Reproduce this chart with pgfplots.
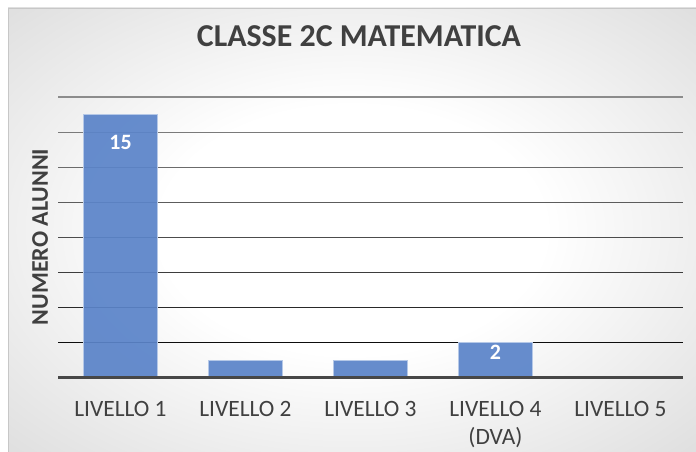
\documentclass[border=0pt]{standalone}
\usepackage{pgfplots}
\pgfplotsset{compat=1.18}
\usepackage{fontspec}
\setmainfont{Carlito}
\definecolor{barblue}{HTML}{5B84C9}
\definecolor{txt}{HTML}{404040}
\pgfdeclareradialshading{bgshade}{\pgfpoint{0bp}{0bp}}{color(0bp)=(white); color(14bp)=(white); color(50bp)=(black!21); color(71bp)=(black!27)}
\begin{document}
\begin{tikzpicture}[x=1bp,y=1bp]
\useasboundingbox (0,0) rectangle (696,452);
\shade[shading=bgshade] (8,0) rectangle (696,444);
\draw[black!22] (8,0) rectangle (696,444);
\node[font=\fontsize{32}{36}\selectfont\bfseries, text=txt] at (359,416) {CLASSE 2C MATEMATICA};
\node[font=\fontsize{24}{28}\selectfont\bfseries, text=txt, rotate=90] at (40,215) {NUMERO ALUNNI};
\begin{axis}[
  at={(58bp,74bp)}, anchor=south west, scale only axis,
  width=625bp, height=281bp,
  xmin=-0.5, xmax=4.5, ymin=0, ymax=16,
  axis line style={draw=none},
  ytick=\empty,
  xtick={0,1,2,3,4},
  xticklabels={LIVELLO 1, LIVELLO 2, LIVELLO 3, {LIVELLO 4\\(DVA)}, LIVELLO 5},
  major tick length=0pt,
  xticklabel style={font=\fontsize{23.5}{28}\selectfont, text=txt, align=center, anchor=north, yshift=-20bp},
  /pgf/number format/assume math mode=true,
  clip=false,
  ybar, bar width=74bp,
]
\draw[black!45, line width=1.2bp] (-0.5,16) -- (4.5,16);
\draw[black!52, line width=1.2bp] (-0.5,14) -- (4.5,14);
\draw[black!58, line width=1.2bp] (-0.5,12) -- (4.5,12);
\draw[black!64, line width=1.2bp] (-0.5,10) -- (4.5,10);
\draw[black!70, line width=1.2bp] (-0.5,8) -- (4.5,8);
\draw[black!76, line width=1.2bp] (-0.5,6) -- (4.5,6);
\draw[black!84, line width=1.2bp] (-0.5,4) -- (4.5,4);
\draw[black!95, line width=1.2bp] (-0.5,2) -- (4.5,2);
\addplot[fill=barblue, fill opacity=0.93, draw=white!55!barblue, line width=0.8bp, bar shift=0pt] coordinates {(0,15) (1,1) (2,1) (3,2) (4,0)};
\addplot[draw=none, fill=none, bar shift=0pt, nodes near coords, point meta=y,
  every node near coord/.style={anchor=north, yshift=-17bp, text=white, font=\fontsize{22}{26}\selectfont\bfseries}] coordinates {(0,15)};
\addplot[draw=none, fill=none, bar shift=0pt, nodes near coords, point meta=y,
  every node near coord/.style={anchor=north, yshift=-2bp, inner sep=0.5bp, text=white, font=\fontsize{22}{26}\selectfont\bfseries}] coordinates {(3,2)};
\draw[black!72, line width=3bp] (-0.5,0) -- (4.5,0);
\end{axis}
\end{tikzpicture}
\end{document}
